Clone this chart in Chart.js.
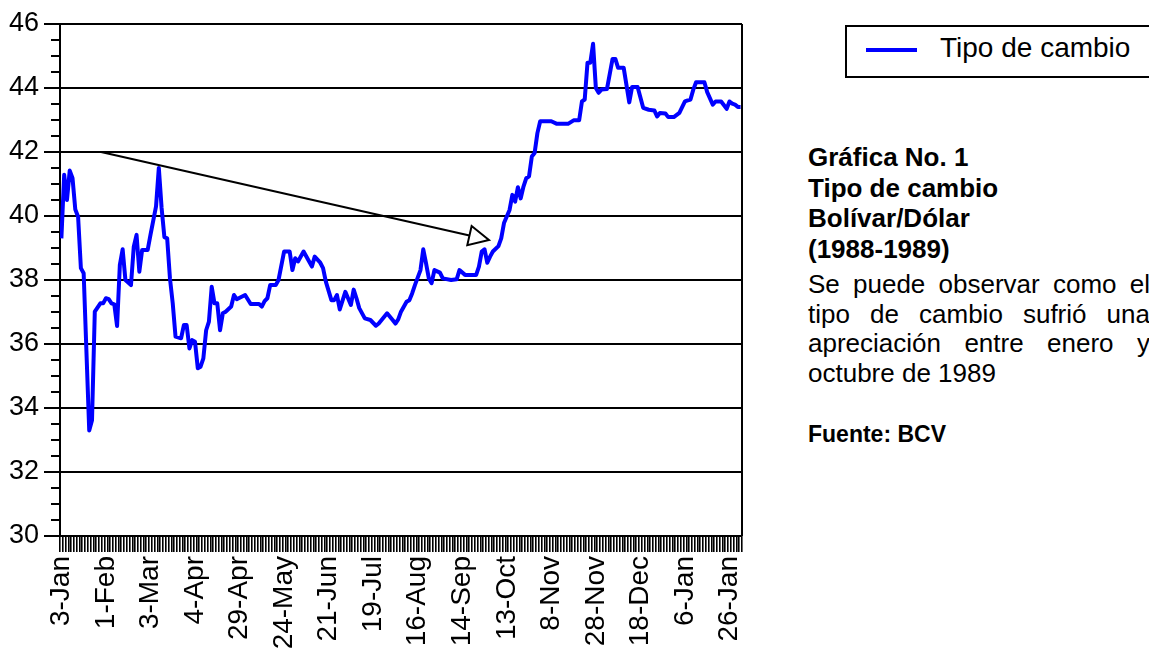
<!DOCTYPE html>
<html>
<head>
<meta charset="utf-8">
<title>Tipo de cambio</title>
<script src="https://cdn.jsdelivr.net/npm/chart.js"></script>
<style>
  html, body { margin: 0; padding: 0; background: #fff; }
  body { width: 1149px; height: 649px; position: relative; overflow: hidden;
         font-family: "Liberation Sans", Arial, sans-serif; color: #000; }
  #wrap { position: absolute; left: 0; top: 0; width: 760px; height: 649px; }
  .legend-box { position: absolute; left: 845px; top: 25px; width: 340px; height: 53px;
                border: 2px solid #000; box-sizing: border-box; }
  .legend-line { position: absolute; left: 866px; top: 48px; width: 51px; height: 4px; background: #0000ff; }
  .legend-text { position: absolute; left: 940px; top: 32px; font-size: 28px; line-height: 32px; white-space: nowrap; }
  .title { position: absolute; left: 808px; top: 142px; font-size: 26px; line-height: 30.5px; font-weight: bold; }
  .note { position: absolute; left: 808px; top: 270px; width: 342px; font-size: 26px; line-height: 29.5px;
          text-align: justify; }
  .source { position: absolute; left: 808px; top: 421px; font-size: 23px; line-height: 26px; font-weight: bold; }
</style>
</head>
<body>
<div id="wrap"><canvas id="grafico"></canvas></div>

<div class="legend-box"></div>
<div class="legend-line"></div>
<div class="legend-text">Tipo de cambio</div>

<div class="title">Gráfica No. 1<br>Tipo de cambio<br>Bolívar/Dólar<br>(1988-1989)</div>
<div class="note">Se puede observar como el tipo de cambio sufrió una apreciación entre enero y octubre de 1989</div>
<div class="source">Fuente: BCV</div>

<script>
// etiquetas del eje x, una cada 16 observaciones
var tickLabels = ["3-Jan", "1-Feb", "3-Mar", "4-Apr", "29-Apr", "24-May", "21-Jun", "19-Jul",
                  "16-Aug", "14-Sep", "13-Oct", "8-Nov", "28-Nov", "18-Dec", "6-Jan", "26-Jan"];
var labelEvery = 16;
var obsCount = 245;

// numero de observacion y tipo de cambio (Bs/$)
var obsIndex = [0, 1, 2, 3, 4, 5, 6, 7, 8, 10, 11, 12, 14, 15, 16, 17, 18, 19, 20, 21,
    22, 23, 25, 26, 27, 28, 29, 31, 32, 34, 35, 36, 37, 38, 39, 40, 41, 43, 44, 45,
    46, 47, 48, 49, 50, 51, 52, 53, 54, 55, 56, 57, 58, 59, 61, 62, 63, 66, 68, 71,
    72, 73, 74, 75, 77, 78, 80, 82, 83, 84, 85, 87, 90, 91, 93, 94, 95, 97, 98, 99,
    100, 102, 104, 105, 106, 107, 109, 111, 113, 114, 117, 119, 120, 121, 122, 124, 125, 126, 127, 129,
    130, 131, 132, 133, 134, 136, 137, 140, 142, 143, 145, 149, 150, 151, 152, 153, 154, 155, 157, 158,
    159, 161, 162, 163, 164, 165, 166, 167, 168, 169, 170, 171, 172, 176, 178, 182, 184, 186, 187, 188,
    189, 190, 191, 192, 193, 194, 196, 198, 199, 200, 202, 204, 205, 207, 209, 211, 213, 214, 215, 217,
    218, 220, 222, 224, 225, 226, 227, 228, 231, 232, 234, 235, 237, 239, 240, 241, 242, 243, 244];
var rate = [39.3, 41.29, 40.5, 41.42, 41.18, 40.2, 39.98, 38.37, 38.21, 33.3, 33.62, 37.01, 37.27, 37.27, 37.43, 37.4, 37.27, 37.24, 36.56, 38.47,
    38.96, 38.0, 37.84, 39.04, 39.41, 38.26, 38.94, 38.94, 39.41, 40.3, 41.5, 40.25, 39.34, 39.3, 38.05, 37.27, 36.23, 36.18, 36.59, 36.59,
    35.86, 36.12, 36.07, 35.24, 35.29, 35.55, 36.43, 36.7, 37.79, 37.27, 37.27, 36.43, 36.96, 37.01, 37.17, 37.53, 37.4, 37.53, 37.25, 37.25,
    37.17, 37.34, 37.43, 37.84, 37.84, 38.0, 38.89, 38.89, 38.31, 38.68, 38.58, 38.89, 38.42, 38.73, 38.54, 38.37, 37.95, 37.37, 37.37, 37.53,
    37.08, 37.63, 37.22, 37.7, 37.43, 37.12, 36.8, 36.75, 36.57, 36.64, 36.96, 36.75, 36.64, 36.77, 37.01, 37.32, 37.37, 37.58, 37.84, 38.31,
    38.96, 38.52, 38.05, 37.9, 38.31, 38.23, 38.05, 38.0, 38.02, 38.31, 38.16, 38.16, 38.42, 38.89, 38.96, 38.54, 38.73, 38.89, 39.06, 39.3,
    39.78, 40.19, 40.66, 40.45, 40.9, 40.55, 40.92, 41.18, 41.24, 41.86, 41.97, 42.59, 42.96, 42.96, 42.88, 42.88, 42.99, 42.99, 43.58, 43.64,
    44.79, 44.79, 45.38, 44.0, 43.85, 43.95, 43.97, 44.91, 44.91, 44.63, 44.63, 43.55, 44.03, 44.03, 43.38, 43.32, 43.3, 43.11, 43.22, 43.2,
    43.09, 43.09, 43.22, 43.58, 43.61, 43.64, 43.95, 44.18, 44.18, 43.87, 43.48, 43.58, 43.58, 43.35, 43.58, 43.51, 43.48, 43.41, 43.41];

// flecha dibujada sobre el grafico (en unidades de los ejes)
var arrowFrom = { x: 14.25, y: 42 };
var arrowTo = { x: 153.6, y: 39.25 };

var fuente = '"Liberation Sans", Arial, sans-serif';

function esMayor(c) {
    return c.tick && c.tick.value % 2 === 0;
}

var extras = {
    id: 'extras',
    beforeDatasetsDraw: function (chart) {
        var ctx = chart.ctx, a = chart.chartArea, y = chart.scales.y;
        ctx.save();
        ctx.strokeStyle = '#000';
        ctx.lineWidth = 2;
        ctx.beginPath();
        ctx.moveTo(a.right, a.top);
        ctx.lineTo(a.right, a.bottom);
        y.ticks.forEach(function (t) {
            if (t.value % 2 !== 0) {
                var py = Math.round(y.getPixelForValue(t.value));
                ctx.moveTo(a.left - 9, py);
                ctx.lineTo(a.left, py);
            }
        });
        ctx.stroke();
        ctx.restore();
    },
    afterDatasetsDraw: function (chart) {
        var ctx = chart.ctx, sx = chart.scales.x, sy = chart.scales.y;
        var x0 = sx.getPixelForValue(arrowFrom.x), y0 = sy.getPixelForValue(arrowFrom.y);
        var x1 = sx.getPixelForValue(arrowTo.x), y1 = sy.getPixelForValue(arrowTo.y);
        var ang = Math.atan2(y1 - y0, x1 - x0);
        var len = 20, half = 9.8;
        var bx = x1 - len * Math.cos(ang), by = y1 - len * Math.sin(ang);
        ctx.save();
        ctx.strokeStyle = '#000';
        ctx.lineWidth = 2;
        ctx.beginPath();
        ctx.moveTo(x0, y0);
        ctx.lineTo(bx, by);
        ctx.stroke();
        ctx.beginPath();
        ctx.moveTo(x1, y1);
        ctx.lineTo(bx + half * Math.sin(ang), by - half * Math.cos(ang));
        ctx.lineTo(bx - half * Math.sin(ang), by + half * Math.cos(ang));
        ctx.closePath();
        ctx.fillStyle = '#fff';
        ctx.fill();
        ctx.stroke();
        ctx.restore();
    }
};

document.addEventListener('DOMContentLoaded', function () {
    var ctx = document.getElementById("grafico").getContext("2d");
    new Chart(ctx, {
        type: "line",
        data: {
            datasets: [{
                label: "Tipo de cambio",
                data: obsIndex.map(function (x, i) { return { x: x, y: rate[i] }; }),
                borderColor: "#0000ff",
                borderWidth: 4,
                borderJoinStyle: "round",
                pointRadius: 0,
                tension: 0,
                fill: false
            }]
        },
        options: {
            responsive: true,
            maintainAspectRatio: false,
            animation: false,
            layout: { padding: { top: 24, right: 18, bottom: 0, left: 0 } },
            plugins: { legend: { display: false }, tooltip: { enabled: false } },
            scales: {
                x: {
                    type: "linear",
                    min: -0.5,
                    max: obsCount - 0.5,
                    afterFit: function (s) { s.height = 113; s.paddingLeft = 0; s.paddingRight = 0; },
                    border: { color: "#000", width: 2 },
                    grid: { drawOnChartArea: false, tickLength: 16, color: "#000", lineWidth: 1.6 },
                    ticks: {
                        stepSize: 1,
                        autoSkip: false,
                        minRotation: 90,
                        maxRotation: 90,
                        padding: 4,
                        labelOffset: 1.4,
                        color: "#000",
                        font: { family: fuente, size: 28 },
                        // las marcas caen entre observaciones; la etiqueta va sobre la observacion siguiente
                        callback: function (v) {
                            var k = Math.round(v + 0.5);
                            if (k % labelEvery === 0) {
                                return tickLabels[k / labelEvery] || '';
                            }
                            return '';
                        }
                    }
                },
                y: {
                    min: 30,
                    max: 46,
                    afterFit: function (s) { s.width = 60; },
                    border: { color: "#000", width: 2 },
                    grid: {
                        color: function (c) { return esMayor(c) ? "#000" : "rgba(0,0,0,0)"; },
                        lineWidth: 2,
                        tickLength: 16
                    },
                    ticks: {
                        stepSize: 0.5,
                        autoSkip: false,
                        padding: 5,
                        color: "#000",
                        font: { family: fuente, size: 27 },
                        callback: function (v) { return v % 2 === 0 ? String(v) : ''; }
                    }
                }
            }
        },
        plugins: [extras]
    });
});
</script>
</body>
</html>
